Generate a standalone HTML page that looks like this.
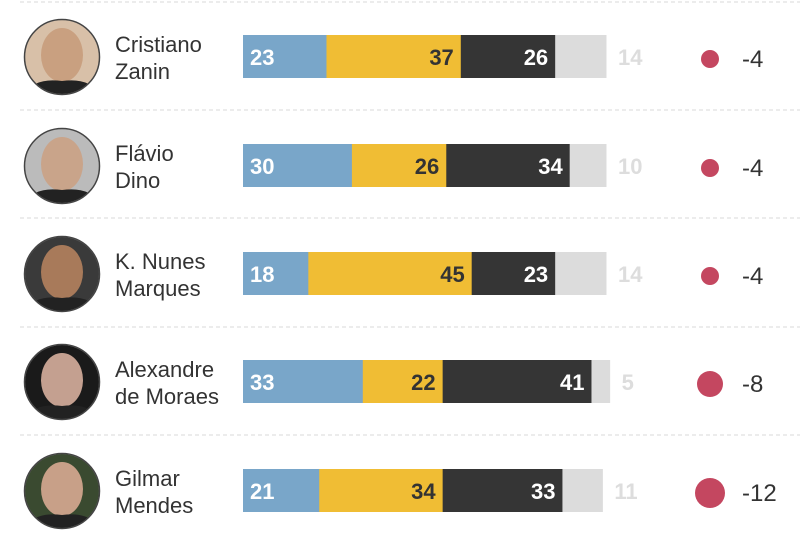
<!DOCTYPE html>
<html><head><style>body{margin:0;background:#fff}svg{display:block}text{font-family:"Liberation Sans",sans-serif}</style></head><body>
<svg width="800" height="534" viewBox="0 0 800 534" xmlns="http://www.w3.org/2000/svg">
<g stroke="#d8d8d8" stroke-width="1" stroke-dasharray="4,3">
<line x1="20" y1="2" x2="800" y2="2"/><line x1="20" y1="110" x2="800" y2="110"/><line x1="20" y1="218" x2="800" y2="218"/><line x1="20" y1="327" x2="800" y2="327"/><line x1="20" y1="435" x2="800" y2="435"/>
</g>
<defs><clipPath id="c"><circle cx="0" cy="0" r="37"/></clipPath></defs>
<g id="rows"></g>
</svg>
<script>
const rows=[
["Cristiano","Zanin",[23,37,26,14],57,9,"-4","#c9a080","#d8c0a8"],
["Flávio","Dino",[30,26,34,10],166,9,"-4","#c9a48a","#bbb"],
["K. Nunes","Marques",[18,45,23,14],274,9,"-4","#a87a5a","#3a3a3a"],
["Alexandre","de Moraes",[33,22,41,5],382,13,"-8","#c4a090","#1a1a1a"],
["Gilmar","Mendes",[21,34,33,11],491,15,"-12","#c8a088","#3a4a30"]];
const cols=["#79a6c9","#f0bd34","#353535","#dcdcdc"];
let s="";const k=3.63;
for(const [a,b,v,y,r,d,skin,bg] of rows){
 s+=`<g transform="translate(62,${y})"><g clip-path="url(#c)"><rect x="-40" y="-40" width="80" height="80" fill="${bg}"/><ellipse cx="0" cy="-2" rx="21" ry="27" fill="${skin}"/><path d="M-38 40 Q-30 20 0 24 Q30 20 38 40Z" fill="#222"/></g><circle r="37.5" fill="none" stroke="#444" stroke-width="1.5"/></g>`;
 s+=`<text x="115" y="${y-5}" font-size="22" fill="#333">${a}</text><text x="115" y="${y+22}" font-size="22" fill="#333">${b}</text>`;
 let x=243;
 v.forEach((n,i)=>{const w=n*k;s+=`<rect x="${x}" y="${y-22}" width="${w+0.5}" height="43" fill="${cols[i]}"/>`;
  if(i==0)s+=`<text x="${x+7}" y="${y+8}" font-size="22" font-weight="bold" fill="#fff">${n}</text>`;
  else if(i==1)s+=`<text x="${x+w-7}" y="${y+8}" font-size="22" font-weight="bold" fill="#333" text-anchor="end">${n}</text>`;
  else if(i==2)s+=`<text x="${x+w-7}" y="${y+8}" font-size="22" font-weight="bold" fill="#fff" text-anchor="end">${n}</text>`;
  else s+=`<text x="${x+w+12}" y="${y+8}" font-size="22" font-weight="bold" fill="#ddd">${n}</text>`;
  x+=w;});
 s+=`<circle cx="710" cy="${y+2}" r="${r}" fill="#c44760"/><text x="742" y="${y+10}" font-size="24" fill="#333">${d}</text>`;
}
document.getElementById("rows").innerHTML=s;
</script>
</body></html>
